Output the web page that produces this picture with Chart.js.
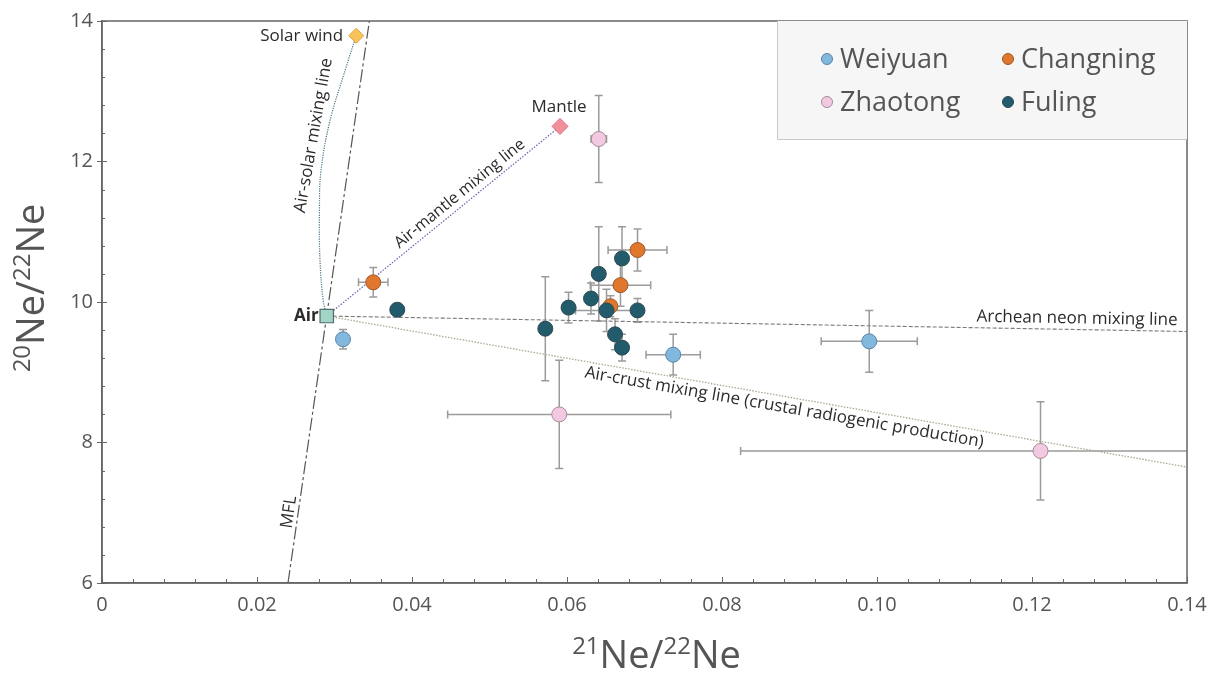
<!DOCTYPE html>
<html>
<head>
<meta charset="utf-8">
<script src="https://cdn.jsdelivr.net/npm/chart.js@4.4.1/dist/chart.umd.min.js"></script>
<style>
  html, body { margin: 0; background: #fff; }
  canvas { display: block; }
</style>
</head>
<body>
<canvas id="neonChart" width="1226" height="673"></canvas>
<script>
const FONT = '"Open Sans", "Noto Sans", sans-serif';

// Axis ticks
const xTickValues = [0, 0.02, 0.04, 0.06, 0.08, 0.10, 0.12, 0.14];
const yTickValues = [6, 8, 10, 12, 14];

// Sample groups: 21Ne/22Ne, 20Ne/22Ne and their 1-sigma errors
const weiyuanX = [0.0311, 0.0737, 0.0990];
const weiyuanY = [9.47, 9.25, 9.44];
const weiyuanXErr = [0, 0.0035, 0.0062];
const weiyuanYErr = [0.14, 0.29, 0.44];

const changningX = [0.0350, 0.0691, 0.0669, 0.0656];
const changningY = [10.28, 10.74, 10.24, 9.94];
const changningXErr = [0.0019, 0.0038, 0.0039, 0];
const changningYErr = [0.21, 0.30, 0.30, 0.15];

const zhaotongX = [0.0641, 0.0590, 0.1211];
const zhaotongY = [12.32, 8.40, 7.88];
const zhaotongXErr = [0.0010, 0.0144, 0.0387];
const zhaotongYErr = [0.62, 0.77, 0.70];

const fulingX = [0.0381, 0.0572, 0.0602, 0.0631, 0.0641, 0.0671, 0.0651, 0.0691, 0.0662, 0.0671];
const fulingY = [9.89, 9.62, 9.92, 10.05, 10.40, 10.62, 9.88, 9.88, 9.54, 9.35];
const fulingXErr = [0.0007, 0.0005, 0.0007, 0.0007, 0.0007, 0.0007, 0.0040, 0.0007, 0.0007, 0.0007];
const fulingYErr = [0.06, 0.74, 0.22, 0.22, 0.67, 0.45, 0.30, 0.17, 0.22, 0.19];

// End-members
const airPoint = [0.0290, 9.80];
const solarWindPoint = [0.0328, 13.79];
const mantlePoint = [0.0591, 12.50];

// Reference lines
const mflX = [0.0240, 0.0345];
const mflY = [6, 14];
const archeanX = [0.0290, 0.14];
const archeanY = [9.80, 9.58];
const crustX = [0.0290, 0.14];
const crustY = [9.80, 7.65];
const airMantleX = [0.0290, 0.0591];
const airMantleY = [9.80, 12.50];
const airSolarX = [0.0290, 0.02855, 0.02813, 0.02806, 0.02826, 0.02942, 0.03135, 0.0328];
const airSolarY = [9.80, 10.02, 10.59, 11.30, 11.87, 12.58, 13.29, 13.79];

const pts = (xs, ys) => xs.map((x, i) => ({ x, y: ys[i] }));

const groups = [
  { label: 'Fuling', x: fulingX, y: fulingY, xErr: fulingXErr, yErr: fulingYErr, fill: '#225b6b', edge: '#2f4850' },
  { label: 'Changning', x: changningX, y: changningY, xErr: changningXErr, yErr: changningYErr, fill: '#e0772d', edge: '#98592f' },
  { label: 'Zhaotong', x: zhaotongX, y: zhaotongY, xErr: zhaotongXErr, yErr: zhaotongYErr, fill: '#f3c9e1', edge: '#a58a99' },
  { label: 'Weiyuan', x: weiyuanX, y: weiyuanY, xErr: weiyuanXErr, yErr: weiyuanYErr, fill: '#82b7de', edge: '#5b84a4' }
];

const sampleSets = groups.map((g, i) => ({
  label: g.label,
  data: pts(g.x, g.y),
  xErr: g.xErr,
  yErr: g.yErr,
  backgroundColor: g.fill,
  borderColor: g.edge,
  borderWidth: 1,
  pointRadius: 7.5,
  order: 1 + i
}));

const endMembers = [
  { label: 'Air', data: [{ x: airPoint[0], y: airPoint[1] }], pointStyle: 'rect', pointRadius: 9.5,
    backgroundColor: '#a2d4c8', borderColor: '#4f6f68', borderWidth: 1.2, order: 0 },
  { label: 'Solar wind', data: [{ x: solarWindPoint[0], y: solarWindPoint[1] }], pointStyle: 'rectRot', pointRadius: 7.5,
    backgroundColor: '#f7c45c', borderColor: '#e0a43c', borderWidth: 1, order: 0 },
  { label: 'Mantle', data: [{ x: mantlePoint[0], y: mantlePoint[1] }], pointStyle: 'rectRot', pointRadius: 8,
    backgroundColor: '#f1909b', borderColor: '#d9707c', borderWidth: 1, order: 0 }
];

const refLine = (label, xs, ys, color, dash, width, tension) => ({
  label, data: pts(xs, ys), showLine: true, pointRadius: 0, fill: false,
  borderColor: color, borderWidth: width, borderDash: dash, tension: tension || 0, order: 20
});

const lineSets = [
  refLine('MFL', mflX, mflY, '#555', [13, 3, 3, 3], 1.2),
  refLine('Archean', archeanX, archeanY, '#7a7a7a', [4, 2], 1.1),
  refLine('Air-crust', crustX, crustY, '#a9a992', [1.5, 1.5], 1.3),
  refLine('Air-mantle', airMantleX, airMantleY, '#6d62b5', [1.5, 1.5], 1.2),
  refLine('Air-solar', airSolarX, airSolarY, '#4d7485', [1.2, 1.2], 1.2, 0.4)
];

function drawErrorBars(chart) {
  const { ctx, chartArea: a, scales: { x, y } } = chart;
  const cap = 4;
  ctx.save();
  ctx.beginPath();
  ctx.rect(a.left, a.top, a.right - a.left, a.bottom - a.top);
  ctx.clip();
  ctx.strokeStyle = '#9b9b9b';
  ctx.lineWidth = 1.5;
  chart.data.datasets.forEach(ds => {
    if (!ds.xErr) return;
    ds.data.forEach((p, i) => {
      const px = x.getPixelForValue(p.x);
      const py = y.getPixelForValue(p.y);
      ctx.beginPath();
      if (ds.xErr[i]) {
        const l = x.getPixelForValue(p.x - ds.xErr[i]);
        const r = x.getPixelForValue(p.x + ds.xErr[i]);
        ctx.moveTo(l, py); ctx.lineTo(r, py);
        ctx.moveTo(l, py - cap); ctx.lineTo(l, py + cap);
        ctx.moveTo(r, py - cap); ctx.lineTo(r, py + cap);
      }
      if (ds.yErr[i]) {
        const t = y.getPixelForValue(p.y + ds.yErr[i]);
        const b = y.getPixelForValue(p.y - ds.yErr[i]);
        ctx.moveTo(px, t); ctx.lineTo(px, b);
        ctx.moveTo(px - cap, t); ctx.lineTo(px + cap, t);
        ctx.moveTo(px - cap, b); ctx.lineTo(px + cap, b);
      }
      ctx.stroke();
    });
  });
  ctx.restore();
}

// text placed on a reference line: t is the fraction between the two end pixels
function lineLabel(ctx, x, y, xs, ys, t, offset, str) {
  const x0 = x.getPixelForValue(xs[0]), y0 = y.getPixelForValue(ys[0]);
  const x1 = x.getPixelForValue(xs[xs.length - 1]), y1 = y.getPixelForValue(ys[ys.length - 1]);
  const ang = Math.atan2(y1 - y0, x1 - x0);
  ctx.save();
  ctx.translate(x0 + (x1 - x0) * t, y0 + (y1 - y0) * t);
  ctx.rotate(ang);
  ctx.fillText(str, 0, offset);
  ctx.restore();
}

function rotatedText(ctx, str, px, py, deg) {
  ctx.save();
  ctx.translate(px, py);
  ctx.rotate(deg * Math.PI / 180);
  ctx.fillText(str, 0, 0);
  ctx.restore();
}

// isotope ratio with raised mass numbers, centred on (cx, cy)
function drawRatio(ctx, parts, cx, cy, deg, size) {
  const big = `${size}px ${FONT}`;
  const small = `${Math.round(size * 0.62)}px ${FONT}`;
  let total = 0;
  const widths = parts.map(([s, sup]) => {
    ctx.font = sup ? small : big;
    const w = ctx.measureText(s).width;
    total += w;
    return w;
  });
  ctx.save();
  ctx.translate(cx, cy);
  ctx.rotate(deg * Math.PI / 180);
  ctx.fillStyle = '#555';
  ctx.textAlign = 'left';
  ctx.textBaseline = 'alphabetic';
  let xpos = -total / 2;
  parts.forEach(([s, sup], i) => {
    ctx.font = sup ? small : big;
    ctx.fillText(s, xpos, sup ? -size * 0.36 : 0);
    xpos += widths[i];
  });
  ctx.restore();
}

const decorations = {
  id: 'decorations',
  beforeDatasetsDraw(chart) {
    drawErrorBars(chart);
  },
  afterDatasetsDraw(chart) {
    const { ctx, chartArea: a, scales: { x, y } } = chart;

    // frame and inner ticks
    ctx.save();
    ctx.strokeStyle = '#666';
    ctx.lineWidth = 1.5;
    ctx.strokeRect(a.left, a.top, a.right - a.left, a.bottom - a.top);
    ctx.lineWidth = 1;
    ctx.beginPath();
    for (let v = 0; v <= 0.1401; v += 0.004) {
      const px = Math.round(x.getPixelForValue(v)) + 0.5;
      const major = Math.abs(v / 0.02 - Math.round(v / 0.02)) < 1e-6;
      ctx.moveTo(px, a.bottom);
      ctx.lineTo(px, a.bottom - (major ? 6 : 4));
    }
    for (let v = 6; v <= 14.001; v += 0.4) {
      const py = Math.round(y.getPixelForValue(v)) + 0.5;
      const major = Math.abs(v / 2 - Math.round(v / 2)) < 1e-6;
      ctx.moveTo(a.left - (major ? 5 : 0), py);
      ctx.lineTo(a.left + (major ? 5 : 3), py);
    }
    ctx.stroke();
    ctx.restore();

    // annotations
    ctx.save();
    ctx.fillStyle = '#2b2b2b';
    ctx.font = `17px ${FONT}`;
    ctx.textBaseline = 'middle';

    const sw = [x.getPixelForValue(solarWindPoint[0]), y.getPixelForValue(solarWindPoint[1])];
    ctx.textAlign = 'right';
    ctx.fillText('Solar wind', sw[0] - 13, sw[1]);

    const mt = [x.getPixelForValue(mantlePoint[0]), y.getPixelForValue(mantlePoint[1])];
    ctx.textAlign = 'center';
    ctx.fillText('Mantle', mt[0] - 1, mt[1] - 19);

    const ar = [x.getPixelForValue(airPoint[0]), y.getPixelForValue(airPoint[1])];
    ctx.textAlign = 'right';
    ctx.font = `bold 17px ${FONT}`;
    ctx.fillText('Air', ar[0] - 8, ar[1]);

    ctx.textAlign = 'center';
    ctx.font = `16px ${FONT}`;
    lineLabel(ctx, x, y, airMantleX, airMantleY, 0.6, -11, 'Air-mantle mixing line');
    ctx.font = `17px ${FONT}`;
    lineLabel(ctx, x, y, crustX, crustY, 0.534, 11, 'Air-crust mixing line (crustal radiogenic production)');
    lineLabel(ctx, x, y, archeanX, archeanY, 0.872, -11, 'Archean neon mixing line');
    lineLabel(ctx, x, y, mflX, mflY, 0.124, -9, 'MFL');
    rotatedText(ctx, 'Air-solar mixing line', x.getPixelForValue(0.0273), y.getPixelForValue(12.37), -80);
    ctx.restore();

    // legend box
    ctx.save();
    const lx = a.right - 410, ly = a.top, lw = 410, lh = 118;
    ctx.fillStyle = '#f6f6f6';
    ctx.fillRect(lx, ly, lw, lh);
    ctx.strokeStyle = '#c9c9c9';
    ctx.lineWidth = 1;
    ctx.beginPath();
    ctx.moveTo(lx + 0.5, ly);
    ctx.lineTo(lx + 0.5, ly + lh + 0.5);
    ctx.lineTo(lx + lw, ly + lh + 0.5);
    ctx.stroke();
    const order = ['Weiyuan', 'Changning', 'Zhaotong', 'Fuling'];
    ctx.font = `27px ${FONT}`;
    ctx.textAlign = 'left';
    ctx.textBaseline = 'middle';
    order.forEach((name, i) => {
      const g = groups.find(d => d.label === name);
      const mx = lx + 50 + (i % 2) * 181;
      const my = ly + 38 + Math.floor(i / 2) * 43;
      ctx.beginPath();
      ctx.arc(mx, my, 5.5, 0, Math.PI * 2);
      ctx.fillStyle = g.fill;
      ctx.fill();
      ctx.strokeStyle = g.edge;
      ctx.stroke();
      ctx.fillStyle = '#555';
      ctx.fillText(name, mx + 13, my + 1);
    });
    ctx.restore();

    // axis titles
    const parts20 = [['20', true], ['Ne', false], ['/', false], ['22', true], ['Ne', false]];
    const parts21 = [['21', true], ['Ne', false], ['/', false], ['22', true], ['Ne', false]];
    drawRatio(ctx, parts21, (a.left + a.right) / 2 + 12, a.bottom + 85, 0, 38);
    drawRatio(ctx, parts20, 44, 288, -90, 38);
  }
};

new Chart(document.getElementById('neonChart'), {
  type: 'scatter',
  data: { datasets: [...endMembers, ...sampleSets, ...lineSets] },
  options: {
    responsive: false,
    animation: false,
    devicePixelRatio: 1,
    layout: { padding: { top: 20, right: 39, left: 0, bottom: 0 } },
    plugins: { legend: { display: false }, tooltip: { enabled: false } },
    scales: {
      x: {
        type: 'linear', min: 0, max: 0.14,
        grid: { display: false, drawTicks: false },
        border: { display: true, color: '#666', width: 1.5 },
        ticks: {
          color: '#555', padding: 10, maxRotation: 0,
          font: { family: FONT, size: 20 },
          callback: v => (v === 0 ? '0' : v.toFixed(2))
        },
        afterBuildTicks: s => { s.ticks = xTickValues.map(v => ({ value: v })); },
        afterFit: s => { s.height = 90; }
      },
      y: {
        type: 'linear', min: 6, max: 14,
        grid: { display: false, drawTicks: false },
        border: { display: true, color: '#666', width: 1.5 },
        ticks: {
          color: '#555', padding: 9,
          font: { family: FONT, size: 20 },
          callback: v => String(v)
        },
        afterBuildTicks: s => { s.ticks = yTickValues.map(v => ({ value: v })); },
        afterFit: s => { s.width = 102; }
      }
    }
  },
  plugins: [decorations]
});
</script>
</body>
</html>
